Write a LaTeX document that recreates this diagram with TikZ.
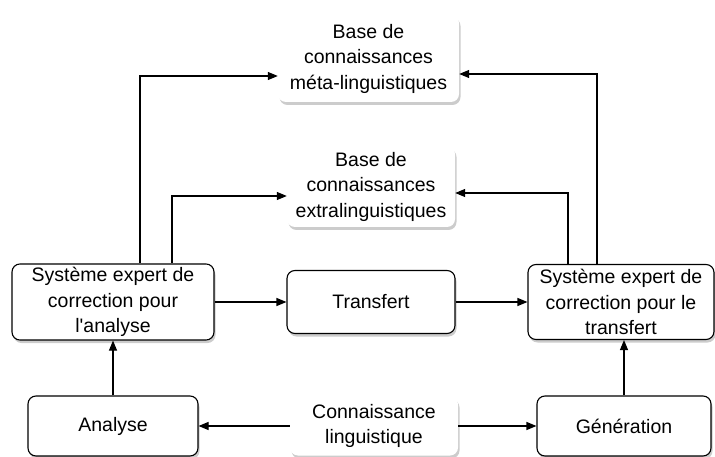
\documentclass[tikz,border=0pt]{standalone}
\usepackage{fontspec}
\setmainfont{Liberation Sans}
\usetikzlibrary{arrows.meta,shadows}

\begin{document}
\begin{tikzpicture}[x=1pt,y=-1pt,
    font=\fontsize{19.5}{25.5}\selectfont,
    box/.style={rectangle, rounded corners=8pt, fill=white, align=center,
        drop shadow={opacity=0.4, shadow xshift=1.5pt, shadow yshift=-3pt}},
    bbox/.style={box, draw, line width=1.1pt},
    arr/.style={line width=1.1pt, -{Triangle[length=10pt,width=8pt]}}]
    \useasboundingbox (0,0) rectangle (715,457);

    \node at (368.5,58.5) [box, minimum width=181pt, minimum height=87pt] (meta)
        {Base de\\connaissances\\méta-linguistiques};
    \node at (371,186.5) [box, minimum width=168pt, minimum height=81pt] (extra)
        {Base de\\connaissances\\extralinguistiques};

    \node at (113,302) [bbox, minimum width=202pt, minimum height=76pt] (sel)
        {Système expert de\\correction pour\\l\textquotesingle analyse};
    \node at (371,302) [bbox, minimum width=168pt, minimum height=63pt] (trans) {Transfert};
    \node at (621,302) [bbox, minimum width=186pt, minimum height=75pt] (ser)
        {Système expert de\\correction pour le\\transfert};

    \node at (113,426) [bbox, minimum width=170pt, minimum height=60pt] (ana) {Analyse};
    \node at (374,426) [box, minimum width=168pt, minimum height=59pt] (conn)
        {Connaissance\\linguistique};
    \node at (624,426) [bbox, minimum width=174pt, minimum height=60pt] (gen) {Génération};

    % flux principal
    \draw[arr] (ana.north) -- (sel.south);
    \draw[arr] (sel.east) -- (trans.west);
    \draw[arr] (trans.east) -- (ser.west);
    \draw[arr] (gen.north) -- (gen.north |- ser.south);
    \draw[arr] (conn.west) -- (ana.east);
    \draw[arr] (conn.east) -- (gen.west);

    % vers les bases de connaissances
    \draw[arr] ([xshift=27pt]sel.north) |- ([yshift=-17.5pt]meta.west);
    \draw[arr] ([xshift=59pt]sel.north) |- ([yshift=-9.5pt]extra.west);
    \draw[arr] ([xshift=-24pt]ser.north) |- ([yshift=-15.5pt]meta.east);
    \draw[arr] ([xshift=-53pt]ser.north) |- ([yshift=-6.5pt]extra.east);
\end{tikzpicture}
\end{document}
